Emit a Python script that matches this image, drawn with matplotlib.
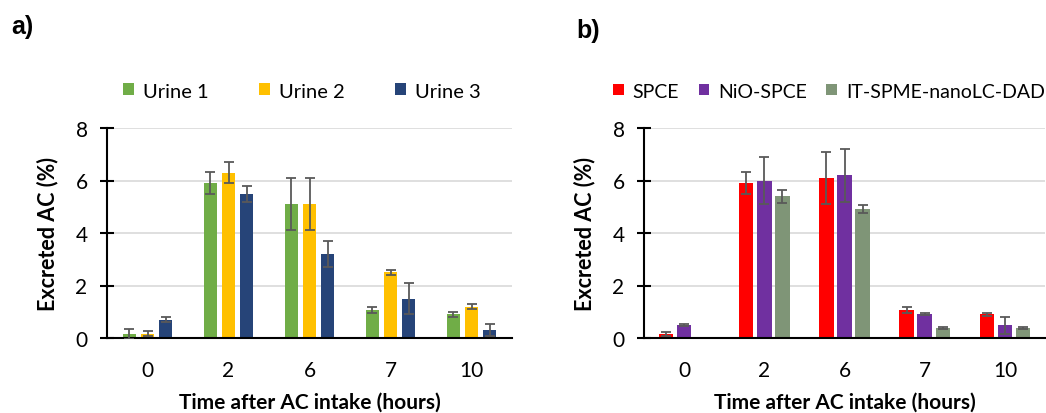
import numpy as np
import matplotlib as mpl
mpl.use("Agg")
import matplotlib.pyplot as plt

plt.rcParams['font.family'] = ['Lato', 'DejaVu Sans']

# shared categories
times = ["0", "2", "6", "7", "10"]

# panel a) three urine samples
urine_names = ["Urine 1", "Urine 2", "Urine 3"]
urine1 = [0.15, 5.9, 5.1, 1.08, 0.9]
urine1_err = [0.2, 0.42, 1.0, 0.12, 0.1]
urine2 = [0.17, 6.3, 5.1, 2.5, 1.2]
urine2_err = [0.08, 0.4, 1.0, 0.1, 0.08]
urine3 = [0.7, 5.5, 3.2, 1.5, 0.3]
urine3_err = [0.1, 0.3, 0.5, 0.6, 0.22]
urine_colors = ["#70AD47", "#FFC000", "#264478"]

# panel b) three methods
method_names = ["SPCE", "NiO-SPCE", "IT-SPME-nanoLC-DAD"]
spce = [0.15, 5.9, 6.1, 1.08, 0.9]
spce_err = [0.08, 0.42, 1.0, 0.12, 0.07]
nio = [0.48, 6.0, 6.2, 0.9, 0.48]
nio_err = [0.04, 0.9, 1.0, 0.04, 0.32]
itspme = [0.0, 5.4, 4.9, 0.38, 0.38]
itspme_err = [0.0, 0.25, 0.15, 0.03, 0.03]
method_colors = ["#FF0000", "#7030A0", "#7F9577"]


def draw_panel(ax, series, errs, names, colors, width, step):
    x = np.arange(len(times))
    handles = []
    for i, (vals, err, name, col) in enumerate(zip(series, errs, names, colors)):
        pos = x + (i - 1) * step
        b = ax.bar(pos, vals, width, color=col, label=name, zorder=2)
        handles.append(b)
        e = np.array(err)
        show = e > 0
        ax.errorbar(pos[show], np.array(vals)[show], yerr=e[show], fmt='none',
                    ecolor='#595959', elinewidth=1.3, capsize=3.5, capthick=1.3, zorder=3)
    ax.set_xlim(-0.5, len(times) - 0.5)
    ax.set_ylim(0, 8)
    ax.set_yticks([0, 2, 4, 6, 8])
    ax.set_xticks(x)
    ax.set_xticklabels(times)
    ax.yaxis.grid(True, color='#D9D9D9', linewidth=1.2, zorder=0)
    ax.set_axisbelow(True)
    for s in ['top', 'right']:
        ax.spines[s].set_visible(False)
    ax.spines['left'].set_linewidth(1.5)
    ax.spines['bottom'].set_linewidth(1.5)
    ax.tick_params(axis='y', direction='inout', length=10, width=1.5, labelsize=15, pad=9)
    ax.tick_params(axis='x', length=0, labelsize=15, pad=16)
    ax.set_ylabel("Excreted AC (%)", fontsize=15.5, fontweight='bold', labelpad=12)
    ax.set_xlabel("Time after AC intake (hours)", fontsize=15, fontweight='bold', labelpad=8)
    return handles


fig = plt.figure(figsize=(10.46, 4.14), dpi=100)

ax1 = fig.add_axes([107 / 1046, 1 - 339 / 414, 405 / 1046, 210 / 414])
h1 = draw_panel(ax1, [urine1, urine2, urine3], [urine1_err, urine2_err, urine3_err],
                urine_names, urine_colors, 0.17, 0.223)
fig.legend(h1, urine_names, loc='center', bbox_to_anchor=(302 / 1046, 1 - 92 / 414),
           ncol=3, frameon=False, fontsize=14.5, handlelength=0.55, handleheight=0.55,
           handletextpad=0.45, columnspacing=2.5)

ax2 = fig.add_axes([644 / 1046, 1 - 339 / 414, 401 / 1046, 210 / 414])
h2 = draw_panel(ax2, [spce, nio, itspme], [spce_err, nio_err, itspme_err],
                method_names, method_colors, 0.18, 0.225)
fig.legend(h2, method_names, loc='center', bbox_to_anchor=(829 / 1046, 1 - 92 / 414),
           ncol=3, frameon=False, fontsize=14, handlelength=0.55, handleheight=0.55,
           handletextpad=0.45, columnspacing=1.0)

fig.text(11 / 1046, 1 - 27 / 414, "a)", fontsize=18, fontweight='bold',
         family='Liberation Sans', va='center', ha='left')
fig.text(576 / 1046, 1 - 31 / 414, "b)", fontsize=18, fontweight='bold',
         family='Liberation Sans', va='center', ha='left')

fig.savefig("out.png", dpi=100)
